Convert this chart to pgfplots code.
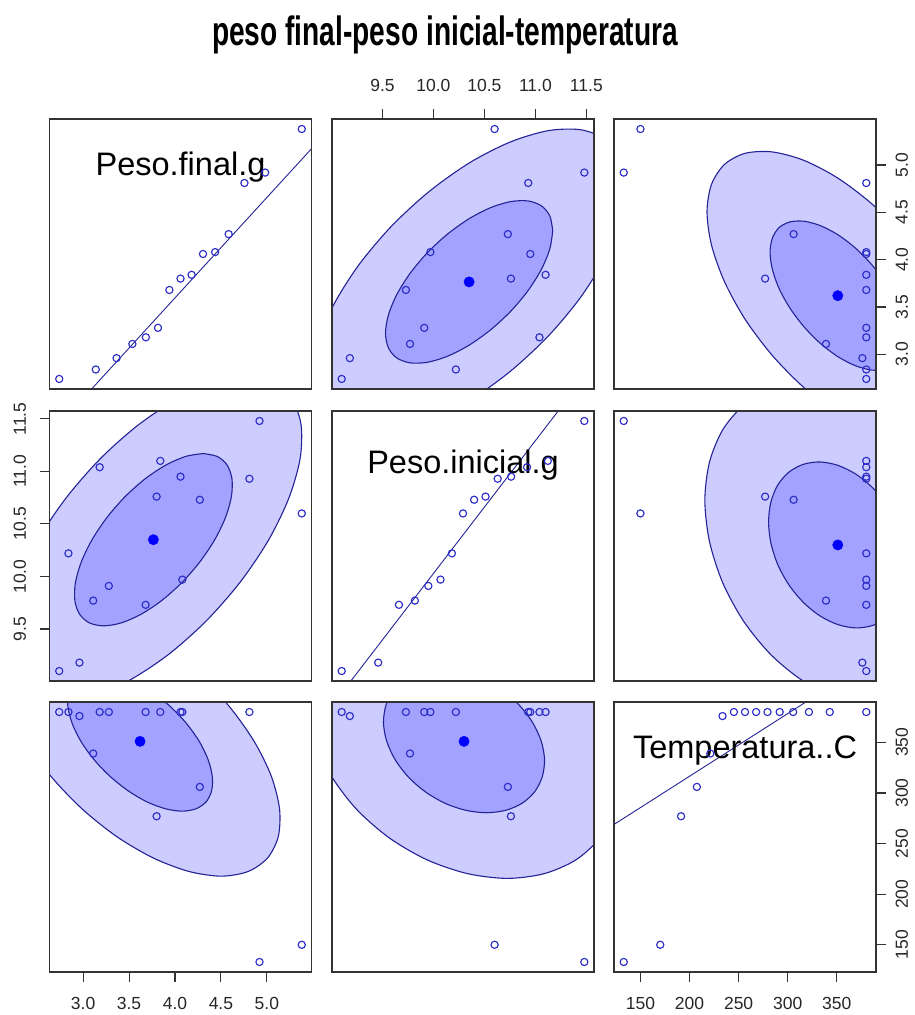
\documentclass[border=0pt]{standalone}
\usepackage{fontspec}
\setmainfont{Liberation Sans}
\usepackage{graphicx}
\usepackage{pgfplots}
\usepackage{pgfplotstable}
\pgfplotsset{compat=1.18}

\definecolor{ptcol}{RGB}{45,45,200}
\definecolor{elcol}{RGB}{35,35,150}

% PF = Peso.final.g, PI = Peso.inicial.g, T = Temperatura..C
\pgfplotstableread{
PF   PI    T
5.38 10.60 150
4.92 11.48 133
4.81 10.93 380
4.27 10.73 306
4.08 9.97  380
4.06 10.95 380
3.80 10.76 277
3.84 11.10 380
3.68 9.73  380
3.28 9.91  380
3.11 9.77  339
3.18 11.04 380
2.96 9.18  376
2.84 10.22 380
2.74 9.10  380
}\dat

% normal quantile plots (x already in the column's scale)
\pgfplotstableread{
q     v
2.740 2.74
3.138 2.84
3.364 2.96
3.536 3.11
3.683 3.18
3.815 3.28
3.939 3.68
4.060 3.80
4.181 3.84
4.305 4.06
4.437 4.08
4.584 4.27
4.756 4.81
4.982 4.92
5.380 5.38
}\qqPF
\pgfplotstableread{
q      v
9.100  9.10
9.458  9.18
9.662  9.73
9.818  9.77
9.950  9.91
10.069 9.97
10.181 10.22
10.290 10.60
10.399 10.73
10.511 10.76
10.630 10.93
10.762 10.95
10.918 11.04
11.122 11.10
11.480 11.48
}\qqPI
\pgfplotstableread{
q     v
133.0 133
170.2 150
191.4 277
207.5 306
221.2 339
233.6 376
245.2 380
256.5 380
267.8 380
279.4 380
291.8 380
305.5 380
321.6 380
342.8 380
380.0 380
}\qqT

% ellipses, peso inicial vs peso final
\pgfplotstableread{
PI     PF
11.170 4.307
11.142 4.461
11.060 4.568
10.930 4.620
10.760 4.614
10.562 4.550
10.350 4.433
10.138 4.270
9.940  4.073
9.770  3.854
9.640  3.630
9.558  3.415
9.530  3.223
9.558  3.069
9.640  2.962
9.770  2.910
9.940  2.916
10.138 2.980
10.350 3.097
10.562 3.260
10.760 3.457
10.930 3.676
11.060 3.900
11.142 4.115
11.170 4.307
}\elAin
\pgfplotstableread{
PI     PF
11.892 4.784
11.839 5.074
11.685 5.275
11.440 5.373
11.121 5.362
10.749 5.241
10.350 5.021
9.951  4.714
9.579  4.343
9.260  3.933
9.015  3.511
8.861  3.106
8.808  2.746
8.861  2.456
9.015  2.255
9.260  2.157
9.579  2.168
9.951  2.289
10.350 2.509
10.749 2.816
11.121 3.187
11.440 3.597
11.685 4.019
11.839 4.424
11.892 4.784
}\elAout

% ellipses, temperatura vs peso final
\pgfplotstableread{
T     PF
420.0 3.162
417.6 3.344
410.8 3.545
399.8 3.751
385.5 3.948
368.9 4.123
351.0 4.264
333.1 4.360
316.5 4.406
302.2 4.399
291.2 4.339
284.4 4.229
282.0 4.078
284.4 3.896
291.2 3.695
302.2 3.489
316.5 3.292
333.1 3.117
351.0 2.976
368.9 2.880
385.5 2.834
399.8 2.841
410.8 2.901
417.6 3.011
420.0 3.162
}\elBin
\pgfplotstableread{
T     PF
484.2 2.736
479.6 3.087
466.3 3.475
445.2 3.873
417.6 4.254
385.5 4.591
351.0 4.862
316.5 5.049
284.4 5.138
256.8 5.124
235.7 5.007
222.4 4.796
217.8 4.504
222.4 4.153
235.7 3.765
256.8 3.367
284.4 2.987
316.5 2.649
351.0 2.378
385.5 2.191
417.6 2.102
445.2 2.117
466.3 2.233
479.6 2.444
484.2 2.736
}\elBout

% ellipses, temperatura vs peso inicial
\pgfplotstableread{
T     PI
421.5 10.079
419.1 10.283
412.1 10.488
400.9 10.680
386.3 10.846
369.2 10.975
351.0 11.058
332.8 11.090
315.8 11.067
301.2 10.993
289.9 10.871
282.9 10.710
280.5 10.521
282.9 10.317
289.9 10.112
301.2 9.920
315.8 9.754
332.8 9.625
351.0 9.542
369.2 9.510
386.3 9.533
400.9 9.607
412.1 9.729
419.1 9.890
421.5 10.079
}\elCin
\pgfplotstableread{
T     PI
486.4 9.875
481.7 10.266
468.2 10.660
446.7 11.029
418.7 11.349
386.0 11.597
351.0 11.756
316.0 11.817
283.3 11.773
255.3 11.630
233.8 11.396
220.3 11.087
215.6 10.725
220.3 10.334
233.8 9.940
255.3 9.571
283.3 9.251
316.0 9.003
351.0 8.844
386.0 8.783
418.7 8.827
446.7 8.970
468.2 9.204
481.7 9.513
486.4 9.875
}\elCout

\tikzset{diaglab/.style={anchor=base, font=\fontsize{32.5}{32.5}\selectfont}}

\pgfplotsset{
  panel/.style={
    scale only axis, width=262pt, height=270pt, anchor=south west,
    axis on top, xtick=\empty, ytick=\empty,
    axis line style={line width=1.3pt, black!80},
    tick align=outside, major tick length=10pt,
    tick style={line width=1.1pt, black!80},
    tick label style={font=\fontsize{17.5}{17.5}\selectfont, black!85,
      /pgf/number format/assume math mode=true},
  },
  onedec x/.style={xticklabel style={/pgf/number format/fixed,
      /pgf/number format/fixed zerofill, /pgf/number format/precision=1}},
  onedec y/.style={yticklabel style={/pgf/number format/fixed,
      /pgf/number format/fixed zerofill, /pgf/number format/precision=1}},
  rightlabels/.style={ytick pos=right, yticklabel pos=right, yticklabel shift=6pt,
      yticklabel style={rotate=90, anchor=north}},
  leftlabels/.style={ytick pos=left, yticklabel pos=left, yticklabel shift=10pt,
      yticklabel style={rotate=90, anchor=south}},
  ell/.style={fill=blue, fill opacity=0.2, draw=elcol, draw opacity=1,
      line width=1.1pt, smooth, no marks},
  pts/.style={only marks, mark=o, mark size=3.6pt,
      mark options={draw=ptcol, line width=1.15pt}},
  mean/.style={only marks, mark=*, mark size=5.2pt,
      mark options={fill=blue, draw=blue}},
  qq/.style={draw=elcol, line width=0.9pt, no marks},
}

\begin{document}
\begin{tikzpicture}
\path[use as bounding box] (0,0) rectangle (914pt,1015pt);
\node[anchor=base] at (445pt,969pt)
  {\fontsize{41}{41}\selectfont\bfseries\scalebox{0.686}[1]{peso final-peso inicial-temperatura}};

% ---------- row 1 ----------
\begin{axis}[panel, at={(49.5pt,626pt)},
  xmin=2.634, xmax=5.486, ymin=2.634, ymax=5.486]
  \addplot[qq] coordinates {(2.634,2.148) (5.486,5.172)};
  \addplot[pts] table[x=q, y=v] {\qqPF};
  \node[diaglab] at (rel axis cs:0.5,0.79) {Peso.final.g};
\end{axis}

\begin{axis}[panel, at={(332pt,626pt)},
  xmin=9.005, xmax=11.575, ymin=2.634, ymax=5.486,
  xtick={9.5,10,10.5,11,11.5}, xtick pos=right, xticklabel pos=right,
  xticklabel shift=14pt, onedec x]
  \addplot[ell] table[x=PI, y=PF] {\elAout};
  \addplot[ell] table[x=PI, y=PF] {\elAin};
  \addplot[pts] table[x=PI, y=PF] {\dat};
  \addplot[mean] coordinates {(10.35,3.765)};
\end{axis}

\begin{axis}[panel, at={(614pt,626pt)},
  xmin=123.1, xmax=389.9, ymin=2.634, ymax=5.486,
  ytick={3,3.5,4,4.5,5}, rightlabels, onedec y]
  \addplot[ell] table[x=T, y=PF] {\elBout};
  \addplot[ell] table[x=T, y=PF] {\elBin};
  \addplot[pts] table[x=T, y=PF] {\dat};
  \addplot[mean] coordinates {(351,3.62)};
\end{axis}

% ---------- row 2 ----------
\begin{axis}[panel, at={(49.5pt,334pt)},
  xmin=2.634, xmax=5.486, ymin=9.005, ymax=11.575,
  ytick={9.5,10,10.5,11,11.5}, leftlabels, onedec y]
  \addplot[ell] table[x=PF, y=PI] {\elAout};
  \addplot[ell] table[x=PF, y=PI] {\elAin};
  \addplot[pts] table[x=PF, y=PI] {\dat};
  \addplot[mean] coordinates {(3.765,10.35)};
\end{axis}

\begin{axis}[panel, at={(332pt,334pt)},
  xmin=9.005, xmax=11.575, ymin=9.005, ymax=11.575]
  \addplot[qq] coordinates {(9.005,8.771) (11.575,12.019)};
  \addplot[pts] table[x=q, y=v] {\qqPI};
  \node[diaglab] at (rel axis cs:0.5,0.77) {Peso.inicial.g};
\end{axis}

\begin{axis}[panel, at={(614pt,334pt)},
  xmin=123.1, xmax=389.9, ymin=9.005, ymax=11.575]
  \addplot[ell] table[x=T, y=PI] {\elCout};
  \addplot[ell] table[x=T, y=PI] {\elCin};
  \addplot[pts] table[x=T, y=PI] {\dat};
  \addplot[mean] coordinates {(351,10.30)};
\end{axis}

% ---------- row 3 ----------
\begin{axis}[panel, at={(49.5pt,43pt)},
  xmin=2.634, xmax=5.486, ymin=123.1, ymax=389.9,
  xtick={3,3.5,4,4.5,5}, xtick pos=left, xticklabel pos=left,
  xticklabel shift=12pt, onedec x]
  \addplot[ell] table[x=PF, y=T] {\elBout};
  \addplot[ell] table[x=PF, y=T] {\elBin};
  \addplot[pts] table[x=PF, y=T] {\dat};
  \addplot[mean] coordinates {(3.62,351)};
\end{axis}

\begin{axis}[panel, at={(332pt,43pt)},
  xmin=9.005, xmax=11.575, ymin=123.1, ymax=389.9]
  \addplot[ell] table[x=PI, y=T] {\elCout};
  \addplot[ell] table[x=PI, y=T] {\elCin};
  \addplot[pts] table[x=PI, y=T] {\dat};
  \addplot[mean] coordinates {(10.30,351)};
\end{axis}

\begin{axis}[panel, at={(614pt,43pt)},
  xmin=123.1, xmax=389.9, ymin=123.1, ymax=389.9,
  xtick={150,200,250,300,350}, xtick pos=left, xticklabel pos=left,
  xticklabel shift=12pt,
  ytick={150,200,250,300,350}, rightlabels]
  \addplot[qq] coordinates {(123.1,268.9) (389.9,434.1)};
  \addplot[pts] table[x=q, y=v] {\qqT};
  \node[diaglab] at (rel axis cs:0.5,0.79) {Temperatura..C};
\end{axis}
\end{tikzpicture}
\end{document}
